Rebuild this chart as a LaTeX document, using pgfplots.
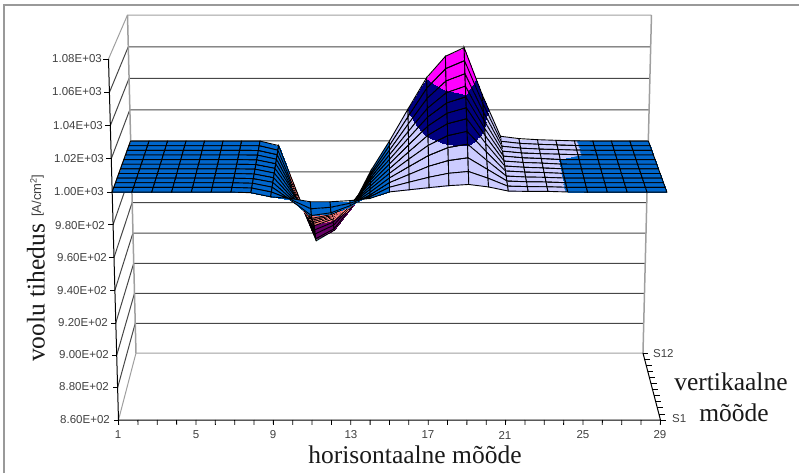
\documentclass[border=0pt]{standalone}
\usepackage{fontspec}
\setmainfont{Liberation Sans}
\newfontfamily\serifttl{Liberation Serif}
\usepackage{pgfplots}
\usepackage{pgfplotstable}
\pgfplotsset{compat=1.18}
\definecolor{b1}{HTML}{9999FF}
\definecolor{b2}{HTML}{993366}
\definecolor{b3}{HTML}{FFFFCC}
\definecolor{b4}{HTML}{CCFFFF}
\definecolor{b5}{HTML}{660066}
\definecolor{b6}{HTML}{FF8080}
\definecolor{b7}{HTML}{0066CC}
\definecolor{b8}{HTML}{CCCCFF}
\definecolor{b9}{HTML}{000080}
\definecolor{b10}{HTML}{FF00FF}
\definecolor{b11}{HTML}{FFFF00}
\definecolor{lab}{HTML}{404040}
\pgfplotstableread{
i j z
1 12 999.9
2 12 999.9
3 12 999.9
4 12 999.9
5 12 999.9
6 12 999.9
7 12 999.9
8 12 999.9
9 12 997.0
10 12 966
11 12 935
12 12 942
13 12 958
14 12 981
15 12 1000
16 12 1020.5
17 12 1040.5
18 12 1054
19 12 1059.5
20 12 1029.4
21 12 1003
22 12 1001.5
23 12 1000.8
24 12 1000.4
25 12 1000.02
26 12 999.9
27 12 999.9
28 12 999.9
29 12 999.9
1 11 999.9
2 11 999.9
3 11 999.9
4 11 999.9
5 11 999.9
6 11 999.9
7 11 999.9
8 11 999.9
9 11 997.0
10 11 968.4
11 11 939.7
12 11 946.2
13 11 960.9
14 11 982.2
15 11 1000
16 11 1018.5
17 11 1036.6
18 11 1048.9
19 11 1053.9
20 11 1026.7
21 11 1002.7
22 11 1001.4
23 11 1000.8
24 11 1000.4
25 11 1000.02
26 11 999.9
27 11 999.9
28 11 999.9
29 11 999.9
1 10 999.9
2 10 999.9
3 10 999.9
4 10 999.9
5 10 999.9
6 10 999.9
7 10 999.9
8 10 999.8
9 10 997.1
10 10 971.7
11 10 946.2
12 10 951.9
13 10 965
14 10 983.9
15 10 1000
16 10 1016.6
17 10 1032.8
18 10 1043.8
19 10 1048.3
20 10 1024.0
21 10 1002.5
22 10 1001.3
23 10 1000.7
24 10 1000.4
25 10 1000.02
26 10 999.9
27 10 999.9
28 10 999.9
29 10 999.9
1 9 999.9
2 9 999.9
3 9 999.9
4 9 999.9
5 9 999.9
6 9 999.9
7 9 999.9
8 9 999.8
9 9 997.2
10 9 974.7
11 9 952.1
12 9 957.1
13 9 968.6
14 9 985.4
15 9 1000
16 9 1014.8
17 9 1029.3
18 9 1039.1
19 9 1043.2
20 9 1021.6
21 9 1002.3
22 9 1001.2
23 9 1000.7
24 9 1000.4
25 9 1000.02
26 9 999.9
27 9 999.9
28 9 999.9
29 9 999.9
1 8 999.9
2 8 999.9
3 8 999.9
4 8 999.9
5 8 999.9
6 8 999.9
7 8 999.9
8 8 999.7
9 8 997.3
10 8 977.7
11 8 958.0
12 8 962.3
13 8 972.3
14 8 986.9
15 8 1000
16 8 1013.4
17 8 1026.5
18 8 1035.4
19 8 1039.2
20 8 1019.6
21 8 1002.1
22 8 1001.1
23 8 1000.6
24 8 999.95
25 8 999.9
26 8 999.9
27 8 999.9
28 8 999.9
29 8 999.9
1 7 999.9
2 7 999.9
3 7 999.9
4 7 999.9
5 7 999.9
6 7 999.9
7 7 999.9
8 7 999.7
9 7 997.3
10 7 980.1
11 7 962.7
12 7 966.4
13 7 975.2
14 7 988.1
15 7 1000
16 7 1012.0
17 7 1023.7
18 7 1031.7
19 7 1035.1
20 7 1017.7
21 7 1001.9
22 7 1001.0
23 7 1000.6
24 7 999.95
25 7 999.9
26 7 999.9
27 7 999.9
28 7 999.9
29 7 999.9
1 6 999.9
2 6 999.9
3 6 999.9
4 6 999.9
5 6 999.9
6 6 999.9
7 6 999.9
8 6 999.7
9 6 997.3
10 6 982.2
11 6 966.9
12 6 970.1
13 6 977.8
14 6 989.1
15 6 1000
16 6 1010.5
17 6 1020.8
18 6 1027.9
19 6 1031.0
20 6 1015.7
21 6 1001.7
22 6 1000.9
23 6 1000.5
24 6 999.95
25 6 999.9
26 6 999.9
27 6 999.9
28 6 999.9
29 6 999.9
1 5 999.9
2 5 999.9
3 5 999.9
4 5 999.9
5 5 999.9
6 5 999.9
7 5 999.9
8 5 999.6
9 5 997.3
10 5 984.3
11 5 971.0
12 5 973.7
13 5 980.4
14 5 990.2
15 5 1000
16 5 1008.8
17 5 1017.3
18 5 1023.3
19 5 1025.9
20 5 1013.3
21 5 1001.5
22 5 1000.8
23 5 1000.5
24 5 999.95
25 5 999.9
26 5 999.9
27 5 999.9
28 5 999.9
29 5 999.9
1 4 999.9
2 4 999.9
3 4 999.9
4 4 999.9
5 4 999.9
6 4 999.9
7 4 999.9
8 4 999.6
9 4 997.3
10 4 986.4
11 4 975.1
12 4 977.4
13 4 983
14 4 991.2
15 4 1000
16 4 1007.0
17 4 1013.8
18 4 1018.7
19 4 1020.8
20 4 1010.8
21 4 1001.2
22 4 1000.6
23 4 1000.4
24 4 999.95
25 4 999.9
26 4 999.9
27 4 999.9
28 4 999.9
29 4 999.9
1 3 999.9
2 3 999.9
3 3 999.9
4 3 999.9
5 3 999.9
6 3 999.9
7 3 999.9
8 3 999.6
9 3 997.2
10 3 988.8
11 3 979.8
12 3 981.5
13 3 985.9
14 3 992.4
15 3 1000
16 3 1005.0
17 3 1010.0
18 3 1013.5
19 3 1015.2
20 3 1008.1
21 3 1001.0
22 3 1000.5
23 3 1000.4
24 3 999.95
25 3 999.9
26 3 999.9
27 3 999.9
28 3 999.9
29 3 999.9
1 2 999.9
2 2 999.9
3 2 999.9
4 2 999.9
5 2 999.9
6 2 999.9
7 2 999.9
8 2 999.5
9 2 997.1
10 2 992.4
11 2 986.9
12 2 987.8
13 2 990.3
14 2 994.2
15 2 1000
16 2 1003.1
17 2 1006.1
18 2 1008.5
19 2 1009.6
20 2 1005.5
21 2 1000.7
22 2 1000.4
23 2 1000.3
24 2 999.95
25 2 999.9
26 2 999.9
27 2 999.9
28 2 999.9
29 2 999.9
1 1 999.9
2 1 999.9
3 1 999.9
4 1 999.9
5 1 999.9
6 1 999.9
7 1 999.9
8 1 999.5
9 1 997.0
10 1 996
11 1 994
12 1 994
13 1 994.7
14 1 996
15 1 1000
16 1 1001.3
17 1 1002.6
18 1 1003.8
19 1 1004.5
20 1 1003
21 1 1000.5
22 1 1000.3
23 1 1000.3
24 1 999.95
25 1 999.9
26 1 999.9
27 1 999.9
28 1 999.9
29 1 999.9
}\surfdata
\pgfplotsset{
  /pgfplots/table/proj/.style={
    x expr={px(\thisrow{i},\thisrow{j},\thisrow{z})},
    y expr={py(\thisrow{i},\thisrow{j},\thisrow{z})},
    z expr={\thisrow{z}}},
}
\begin{document}
\begin{tikzpicture}
\path[use as bounding box] (0,0) rectangle (799pt,473pt);
\begin{axis}[
  at={(0,0)}, anchor=south west,
  width=799pt, height=473pt, scale only axis,
  xmin=0, xmax=799, ymin=0, ymax=473, zmin=800, zmax=1100,
  view={0}{90}, hide axis, clip=false,
  point meta min=860, point meta max=1080,
  declare function={
    uu(\a)=(\a-1)/28;
    vv(\b)=(\b-1)/11;
    ww(\c)=(\c-860)/220;
    px(\a,\b,\c)=389.5+(uu(\a)-0.5)*((542+20*ww(\c))*(1-vv(\b))+(507+17*ww(\c))*vv(\b));
    py(\a,\b,\c)=473-((420-354*ww(\c)-7*ww(\c)^2)*(1-vv(\b))+(353-325*ww(\c)-13*ww(\c)^2)*vv(\b));
  },
  colormap={excel}{
    color(0)=(b1) color(20)=(b1)
    color(20.01)=(b2) color(40)=(b2)
    color(40.01)=(b3) color(60)=(b3)
    color(60.01)=(b4) color(80)=(b4)
    color(80.01)=(b5) color(100)=(b5)
    color(100.01)=(b6) color(120)=(b6)
    color(120.01)=(b7) color(140)=(b7)
    color(140.01)=(b8) color(160)=(b8)
    color(160.01)=(b9) color(180)=(b9)
    color(180.01)=(b10) color(200)=(b10)
    color(200.01)=(b11) color(220)=(b11)
  },
]
% outer frame
\addplot3[draw=gray!80, line width=1.5pt] coordinates {(4,0,0) (4,468,0) (799,468,0)};
% wall grid lines
\pgfplotsinvokeforeach{880,900,920,940,960,980,1000,1020,1040,1060}{
  \addplot3[draw=black!72, line width=1pt] table[proj, row sep=\\]{
i j z\\
1 1 #1\\
1 12 #1\\
29 12 #1\\
};
}
\addplot3[draw=gray!75, line width=1pt] table[proj, row sep=\\]{
i j z\\
1 1 860\\
1 12 860\\
29 12 860\\
};
\addplot3[draw=gray!75, line width=1pt] table[proj, row sep=\\]{
i j z\\
1 1 1080\\
1 12 1080\\
29 12 1080\\
};
\addplot3[draw=gray!75, line width=1.5pt] table[proj, row sep=\\]{
i j z\\
1 12 860\\
1 12 1080\\
};
\addplot3[draw=gray!75, line width=1.5pt] table[proj, row sep=\\]{
i j z\\
29 12 860\\
29 12 1080\\
};
% surface
\addplot3[surf, shader=faceted interp, faceted color=black, line width=0.9pt,
  mesh/rows=12, mesh/cols=29, z buffer=none, point meta=explicit]
  table[proj, meta=z]{\surfdata};
% axes
\addplot3[draw=black, line width=1pt] table[proj, row sep=\\]{
i j z\\
1 1 1080\\
1 1 860\\
29 1 860\\
29 12 860\\
};
\pgfplotsinvokeforeach{860,880,900,920,940,960,980,1000,1020,1040,1060,1080}{
  \addplot3[draw=black, line width=0.8pt] table[proj, row sep=\\]{
i j z\\
1 1 #1\\
0.75 1 #1\\
};
}
\pgfplotsinvokeforeach{1,...,29}{
  \addplot3[draw=black, line width=0.8pt] table[proj, row sep=\\]{
i j z\\
#1 1 860\\
#1 1 857\\
};
}
\pgfplotsinvokeforeach{1,...,12}{
  \addplot3[draw=black, line width=0.8pt] table[proj, row sep=\\]{
i j z\\
29 #1 860\\
29.3 #1 860\\
};
}
% tick labels
\begin{scope}[every node/.style={font=\fontsize{11.5}{13}\selectfont, text=lab, inner sep=0pt}]
\node[anchor=east] at (axis cs:102,414,0) {1.08E+03};
\node[anchor=east] at (axis cs:102,381,0) {1.06E+03};
\node[anchor=east] at (axis cs:103,347,0) {1.04E+03};
\node[anchor=east] at (axis cs:104,314,0) {1.02E+03};
\node[anchor=east] at (axis cs:104,281,0) {1.00E+03};
\node[anchor=east] at (axis cs:105,247,0) {9.80E+02};
\node[anchor=east] at (axis cs:107,215,0) {9.60E+02};
\node[anchor=east] at (axis cs:107,182,0) {9.40E+02};
\node[anchor=east] at (axis cs:108,150,0) {9.20E+02};
\node[anchor=east] at (axis cs:109,118,0) {9.00E+02};
\node[anchor=east] at (axis cs:109,86,0) {8.80E+02};
\node[anchor=east] at (axis cs:110,53,0) {8.60E+02};
\node at (axis cs:118,38,0) {1};
\node at (axis cs:196,38,0) {5};
\node at (axis cs:273,38,0) {9};
\node at (axis cs:351,38,0) {13};
\node at (axis cs:428,38,0) {17};
\node at (axis cs:505,38,0) {21};
\node at (axis cs:583,38,0) {25};
\node at (axis cs:660,38,0) {29};
\node[anchor=west] at (axis cs:653,119,0) {S12};
\node[anchor=west] at (axis cs:672,54,0) {S1};
\end{scope}
% titles
\begin{scope}[every node/.style={font=\serifttl\fontsize{25.5}{28}\selectfont, text=black!90, inner sep=0pt}]
\node at (axis cs:415,18,0) {horisontaalne mõõde};
\node at (axis cs:731,91,0) {vertikaalne};
\node at (axis cs:734,60,0) {mõõde};
\node[rotate=90, anchor=west] at (axis cs:36,111,0) {voolu tihedus};
\end{scope}
\node[rotate=90, anchor=west, inner sep=0pt, font=\fontsize{13}{15}\selectfont, text=lab] at (axis cs:37,256,0) {[A/cm\textsuperscript{2}]};
\end{axis}
\end{tikzpicture}
\end{document}
